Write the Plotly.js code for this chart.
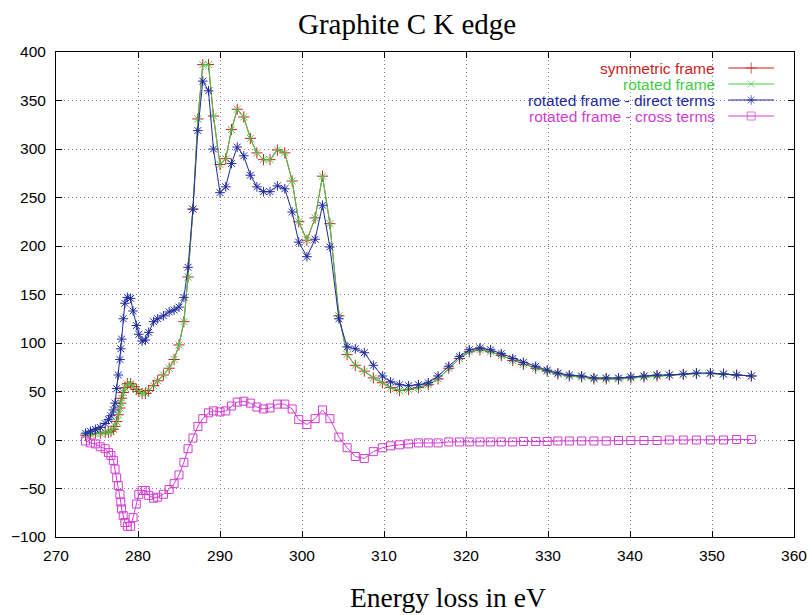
<!DOCTYPE html>
<html>
<head>
<meta charset="utf-8">
<script src="https://cdn.plot.ly/plotly-3.0.1.min.js"></script>
<style>
  html, body { margin: 0; padding: 0; background: #ffffff; }
  #chart { width: 811px; height: 615px; }
</style>
</head>
<body>
<div id="chart"></div>
<script>
// Energy loss grid (eV)
const energy = [
  273.6, 274.2, 274.8, 275.4, 276.0, 276.4, 276.7, 277.0, 277.2, 277.4,
  277.6, 277.8, 277.9, 278.0, 278.2, 278.4, 278.7, 279.1, 279.4, 279.8,
  280.1, 280.5, 280.9, 281.3, 281.9, 282.4, 283.1, 283.8, 284.4, 285.0,
  285.6, 286.1, 286.7, 287.3, 287.9, 288.6, 289.2, 290.0, 290.7, 291.4,
  292.1, 292.9, 293.7, 294.5, 295.3, 296.1, 297.0, 297.9, 298.8, 299.6,
  300.6, 301.6, 302.5, 303.4, 304.5, 305.5, 306.5, 307.6, 308.7, 309.8,
  310.8, 311.9, 313.0, 314.2, 315.4, 316.6, 317.9, 319.2, 320.4, 321.7,
  323.0, 324.3, 325.7, 327.0, 328.5, 329.9, 331.2, 332.6, 334.1, 335.6,
  337.1, 338.6, 340.1, 341.7, 343.3, 344.8, 346.5, 348.1, 349.8, 351.4,
  353.0, 354.8
];

// Spectrum in the symmetric frame
const symmetricFrame = [
  5, 6, 7, 7, 8, 8, 9, 11, 14, 19,
  26, 33, 38, 43, 49, 54, 58, 58, 55, 52,
  50, 48, 48, 51, 56, 61, 67, 74, 83, 98,
  122, 168, 238, 331, 387, 387, 334, 284, 290, 320,
  341, 333, 311, 296, 289, 289, 299, 296, 267, 225,
  206, 229, 272, 223, 128, 88, 77, 71, 64, 59,
  54, 51, 52, 54, 57, 63, 74, 84, 91, 93,
  91, 87, 82, 78, 74, 71, 68, 66, 65, 63,
  63, 63, 64, 65, 66, 67, 67.5, 68.5, 68.5, 68,
  67, 66
];

// Spectrum in the rotated frame
const rotatedFrame = [
  5, 6, 7, 7, 8, 8, 9, 11, 14, 19,
  26, 33, 38, 43, 49, 54, 58, 58, 55, 52,
  50, 48, 48, 51, 56, 61, 67, 74, 83, 98,
  122, 168, 238, 331, 387, 387, 334, 284, 290, 320,
  341, 333, 311, 296, 289, 289, 299, 296, 267, 225,
  206, 229, 272, 223, 128, 88, 77, 71, 64, 59,
  54, 51, 52, 54, 57, 63, 74, 84, 91, 93,
  91, 87, 82, 78, 74, 71, 68, 66, 65, 63,
  63, 63, 64, 65, 66, 67, 67.5, 68.5, 68.5, 68,
  67, 66
];

// Rotated frame, direct terms only
const directTerms = [
  7, 9, 11, 13, 17, 21, 25, 31, 38, 53,
  67, 83, 94, 104, 125, 141, 147, 146, 133, 118,
  109, 102, 103, 111, 122, 125, 128, 132, 134, 137,
  147, 178, 238, 319, 370, 360, 300, 255, 261, 285,
  302, 293, 273, 261, 256, 256, 262, 259, 235, 204,
  189, 207, 242, 199, 125, 96, 94, 90, 77, 66,
  60, 57, 56, 57, 59, 66, 76, 86, 93, 95,
  93, 89, 84, 80, 76, 72, 69, 67, 66, 64,
  64, 64, 65, 66, 67, 67, 68, 69, 69, 68,
  67, 66
];

// Rotated frame, cross terms only
const crossTerms = [
  -1, -3, -4, -7, -9, -13, -16, -21, -30, -39,
  -47, -56, -64, -71, -78, -85, -89, -89, -80, -66,
  -56, -52, -52, -57, -60, -59, -56, -51, -45, -36,
  -23, -9, 2, 14, 22, 28, 30, 29, 30, 35,
  39, 40, 38, 34, 32, 33, 37, 37, 32, 21,
  16, 22, 31, 22, 3, -8, -17, -19, -12, -8,
  -6, -5, -4, -3, -3, -3, -2, -2, -2, -2,
  -2, -2, -2, -1.5, -1.5, -1.5, -1, -1, -1, -1,
  -1, -0.5, -0.5, -0.5, -0.5, 0, 0, 0, 0, 0,
  0.5, 0.5
];

const seriesNames = [
  'symmetric frame',
  'rotated frame',
  'rotated frame - direct terms',
  'rotated frame - cross terms'
];
const seriesValues = [symmetricFrame, rotatedFrame, directTerms, crossTerms];

const colors = ['#c81e1e', '#44cc44', '#1f2aa0', '#d23cd2'];
const symbols = ['cross-thin-open', 'x-thin-open', 'asterisk-open', 'square-open'];
const sizes = [8, 7, 8, 8];

const traces = seriesValues.map((vals, i) => ({
  type: 'scatter',
  mode: 'lines+markers',
  x: energy,
  y: vals,
  name: seriesNames[i],
  showlegend: false,
  line: { color: colors[i], width: 1 },
  marker: {
    symbol: symbols[i],
    size: sizes[i],
    color: colors[i],
    line: { color: colors[i], width: 1 }
  },
  hoverinfo: 'skip'
}));

// Key in the top-right corner: label right-aligned, sample line to its right
const keyRows = [0.967, 0.934, 0.901, 0.868];
const keyTextX = 0.896;
const keyLineX = [0.911, 0.942, 0.973];
const annotations = [];
seriesNames.forEach((name, i) => {
  traces.push({
    type: 'scatter',
    mode: 'lines+markers',
    xaxis: 'x2',
    yaxis: 'y2',
    x: keyLineX,
    y: [keyRows[i], keyRows[i], keyRows[i]],
    showlegend: false,
    hoverinfo: 'skip',
    line: { color: colors[i], width: 1 },
    marker: {
      symbol: symbols[i],
      size: [0, sizes[i], 0],
      color: colors[i],
      line: { color: colors[i], width: 1 }
    }
  });
  annotations.push({
    xref: 'paper', yref: 'paper',
    x: keyTextX, y: keyRows[i],
    xanchor: 'right', yanchor: 'middle',
    text: name,
    showarrow: false,
    font: { family: 'Liberation Sans, Arial, sans-serif', size: 15.5, color: colors[i] }
  });
});

annotations.push({
  xref: 'paper', yref: 'paper',
  x: 0.531, y: -0.124,
  xanchor: 'center', yanchor: 'middle',
  text: 'Energy loss in eV',
  showarrow: false,
  font: { family: 'Liberation Serif, Times New Roman, serif', size: 27.5, color: '#000000' }
});

const tickFont = { family: 'Liberation Sans, Arial, sans-serif', size: 15.5, color: '#000000' };

const layout = {
  width: 811,
  height: 615,
  margin: { l: 56, r: 17, t: 52, b: 78 },
  paper_bgcolor: '#ffffff',
  plot_bgcolor: '#ffffff',
  showlegend: false,
  hovermode: false,
  title: {
    text: 'Graphite C K edge',
    font: { family: 'Liberation Serif, Times New Roman, serif', size: 29, color: '#000000' },
    x: 0.502, xanchor: 'center', xref: 'container',
    y: 0.962, yanchor: 'middle', yref: 'container'
  },
  xaxis: {
    range: [270, 360],
    tickmode: 'array',
    tickvals: [270, 280, 290, 300, 310, 320, 330, 340, 350, 360],
    ticks: 'inside', ticklen: 6, tickcolor: '#000000', tickwidth: 1,
    showline: true, linecolor: '#000000', linewidth: 1, mirror: 'ticks',
    showgrid: true, gridcolor: '#808080', gridwidth: 1, griddash: '1px,3px',
    zeroline: false,
    tickfont: tickFont,
    ticklabelstandoff: 4
  },
  yaxis: {
    range: [-100, 400],
    tickmode: 'array',
    tickvals: [-100, -50, 0, 50, 100, 150, 200, 250, 300, 350, 400],
    ticks: 'inside', ticklen: 6, tickcolor: '#000000', tickwidth: 1,
    showline: true, linecolor: '#000000', linewidth: 1, mirror: 'ticks',
    showgrid: true, gridcolor: '#808080', gridwidth: 1, griddash: '1px,3px',
    zeroline: false,
    tickfont: tickFont,
    ticklabelstandoff: 6
  },
  xaxis2: { overlaying: 'x', range: [0, 1], visible: false, fixedrange: true },
  yaxis2: { overlaying: 'y', range: [0, 1], visible: false, fixedrange: true },
  annotations: annotations
};

Plotly.newPlot('chart', traces, layout, { displayModeBar: false, staticPlot: true });
</script>
</body>
</html>
